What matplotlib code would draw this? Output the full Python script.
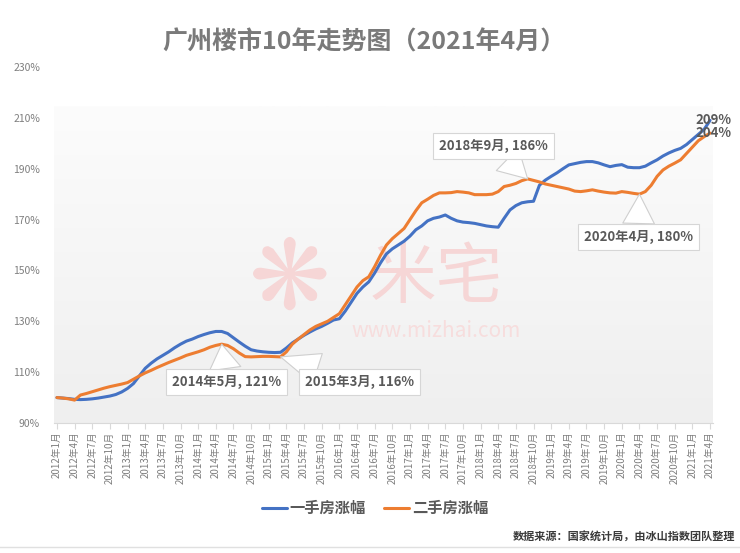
import numpy as np
import matplotlib
matplotlib.use("Agg")
import matplotlib.pyplot as plt

plt.rcParams['font.family'] = ['Noto Sans CJK SC', 'DejaVu Sans']

# 2012年1月 .. 2021年4月, monthly index (2012年1月 = 100%)
years = list(range(2012, 2022))
months = [f"{y}年{m}月" for y in years for m in range(1, 13)][:112]

new_home = [
    100.0, 99.8, 99.6, 99.3, 99.2, 99.3, 99.5, 99.8, 100.2, 100.6, 101.2, 102.2,    # 2012
    103.6, 105.5, 108.5, 111.5, 113.5, 115.2, 116.6, 118.0, 119.6, 121.0, 122.2, 123.0,  # 2013
    124.0, 124.8, 125.5, 126.0, 126.0, 125.2, 123.5, 121.8, 120.2, 118.8, 118.3, 118.0,  # 2014
    117.8, 117.7, 117.8, 119.5, 121.5, 123.0, 124.5, 125.8, 127.0, 128.0, 129.2, 130.5,  # 2015
    131.0, 134.0, 137.5, 141.0, 143.5, 145.5, 149.0, 153.0, 156.5, 158.5, 160.0, 161.5,  # 2016
    163.5, 166.0, 167.5, 169.5, 170.5, 171.0, 171.8, 170.5, 169.5, 169.0, 168.8, 168.5,  # 2017
    168.0, 167.5, 167.2, 167.0, 170.5, 173.8, 175.5, 176.6, 177.0, 177.2, 183.5, 185.5,  # 2018
    187.0, 188.4, 190.0, 191.5, 192.0, 192.5, 192.8, 192.8, 192.3, 191.5, 190.8, 191.3,  # 2019
    191.6, 190.6, 190.4, 190.4, 191.0, 192.3, 193.5, 195.0, 196.2, 197.2, 198.0, 199.5,  # 2020
    201.5, 203.5, 205.5, 209.0,                                                          # 2021
]
second_home = [
    100.0, 99.8, 99.5, 99.0, 101.0, 101.6, 102.3, 103.0, 103.7, 104.3, 104.8, 105.3,
    105.9, 107.2, 108.5, 109.7, 110.7, 111.8, 112.8, 113.8, 114.7, 115.6, 116.6, 117.3,
    118.0, 118.8, 119.8, 120.5, 121.0, 120.5, 119.2, 117.5, 116.1, 116.0, 116.1, 116.2,
    116.2, 116.1, 116.0, 118.0, 121.0, 123.0, 124.8, 126.6, 128.0, 129.0, 130.0, 131.5,
    133.0, 136.5, 140.0, 143.5, 146.0, 147.5, 151.5, 156.0, 160.0, 162.5, 164.5, 166.5,
    170.0, 173.5, 176.6, 178.0, 179.5, 180.5, 180.5, 180.6, 181.0, 180.8, 180.5, 179.8,
    179.8, 179.8, 180.0, 181.0, 183.0, 183.5, 184.2, 185.3, 186.0, 185.4, 184.8, 184.0,
    183.5, 183.0, 182.5, 182.0, 181.2, 181.0, 181.3, 181.7, 181.2, 180.8, 180.5, 180.4,
    181.0, 180.7, 180.3, 180.0, 181.0, 183.5, 187.0, 189.5, 191.0, 192.2, 193.5, 196.0,
    198.5, 201.0, 202.6, 204.0,
]

# callouts on the 二手房 line
callout_months = ["2014年5月", "2015年3月", "2018年9月", "2020年4月"]
callout_text_pos = [(28.9, 106.1), (51.4, 106.1), (74.2, 199.0), (98.8, 163.2)]

blue = '#4472C4'
orange = '#ED7D31'
grey = '#7f7f7f'
wm = '#f6d6d6'

fig = plt.figure(figsize=(7.4, 5.53), dpi=100)
ax = fig.add_axes([54 / 740, 1 - 423 / 553, 659 / 740, 356 / 553])

x = np.arange(len(months))
ax.set_xlim(-0.5, len(months) - 0.5)
ax.set_ylim(90, 230)

# gradient plot-area background
grad = np.linspace(0, 1, 256).reshape(-1, 1)
cmap = matplotlib.colors.LinearSegmentedColormap.from_list('g', ['#efefef', '#fcfcfc'])
ax.imshow(grad, aspect='auto', cmap=cmap, extent=(-0.5, len(months) - 0.5, 90, 214.5),
          zorder=0, origin='lower')

# watermark
ax.text(0.58, 0.405, '米宅', transform=ax.transAxes, fontsize=48,
        color=wm, ha='center', va='center', zorder=1)
ax.text(0.358, 0.395, '❋', transform=ax.transAxes, fontsize=70, family='DejaVu Sans',
        color=wm, ha='center', va='center', zorder=1)
ax.text(0.58, 0.258, 'www.mizhai.com', transform=ax.transAxes, fontsize=15,
        color='#f7dddd', ha='center', va='center', zorder=1)

ax.plot(x, new_home, color=blue, lw=2.2, label='一手房涨幅', zorder=3, solid_capstyle='round')
ax.plot(x, second_home, color=orange, lw=2.2, label='二手房涨幅', zorder=3, solid_capstyle='round')

for lab, (tx, ty) in zip(callout_months, callout_text_pos):
    i = months.index(lab)
    ax.annotate(f"{lab}, {second_home[i]:.0f}%", xy=(i, second_home[i]), xytext=(tx, ty),
                ha='center', va='center', fontsize=9.5, fontweight='bold', color='#595959',
                bbox=dict(boxstyle='square,pad=0.45', fc='white', ec='#d6d6d6', lw=0.8),
                arrowprops=dict(arrowstyle='wedge,tail_width=2.4,shrink_factor=0.5',
                                fc='white', ec='#cfcfcf', lw=0.8, shrinkA=0, shrinkB=0),
                zorder=4)

ax.text(108.5, new_home[-1], f"{new_home[-1]:.0f}%", fontsize=9.5, fontweight='bold',
        color='#595959', va='center', ha='left', zorder=5)
ax.text(108.5, second_home[-1], f"{second_home[-1]:.0f}%", fontsize=9.5, fontweight='bold',
        color='#595959', va='center', ha='left', zorder=5)

for s in ['top', 'right', 'left']:
    ax.spines[s].set_visible(False)
ax.spines['bottom'].set_color('#d9d9d9')
ax.set_xticks(x[::3])
ax.set_xticklabels(months[::3], rotation=90, fontsize=7, color=grey)
ax.tick_params(axis='x', length=4, color='#d9d9d9', pad=2)
ax.set_yticks(range(90, 231, 20))
ax.set_yticklabels([f"{v}%" for v in range(90, 231, 20)], fontsize=7.5, color=grey)
ax.tick_params(axis='y', length=0, pad=10)

fig.text(0.492, 0.924, '广州楼市10年走势图（2021年4月）', ha='center', va='center',
         fontsize=18, fontweight='bold', color='#7a7a7a')

leg = fig.legend(loc='center', bbox_to_anchor=(0.507, 0.081), ncol=2, frameon=False,
                 fontsize=11, handlelength=1.6, columnspacing=1.2, handletextpad=0.2)
for t in leg.get_texts():
    t.set_fontweight('bold')
    t.set_color('#595959')

fig.text(0.993, 0.029, '数据来源：国家统计局，由冰山指数团队整理', ha='right', va='center',
         fontsize=8, fontweight='bold', color='#3a3a3a')
fig.add_artist(plt.Line2D([0, 1], [1 - 547 / 553] * 2, color='#e0e0e0', lw=1))

fig.savefig('out.png', dpi=100)
